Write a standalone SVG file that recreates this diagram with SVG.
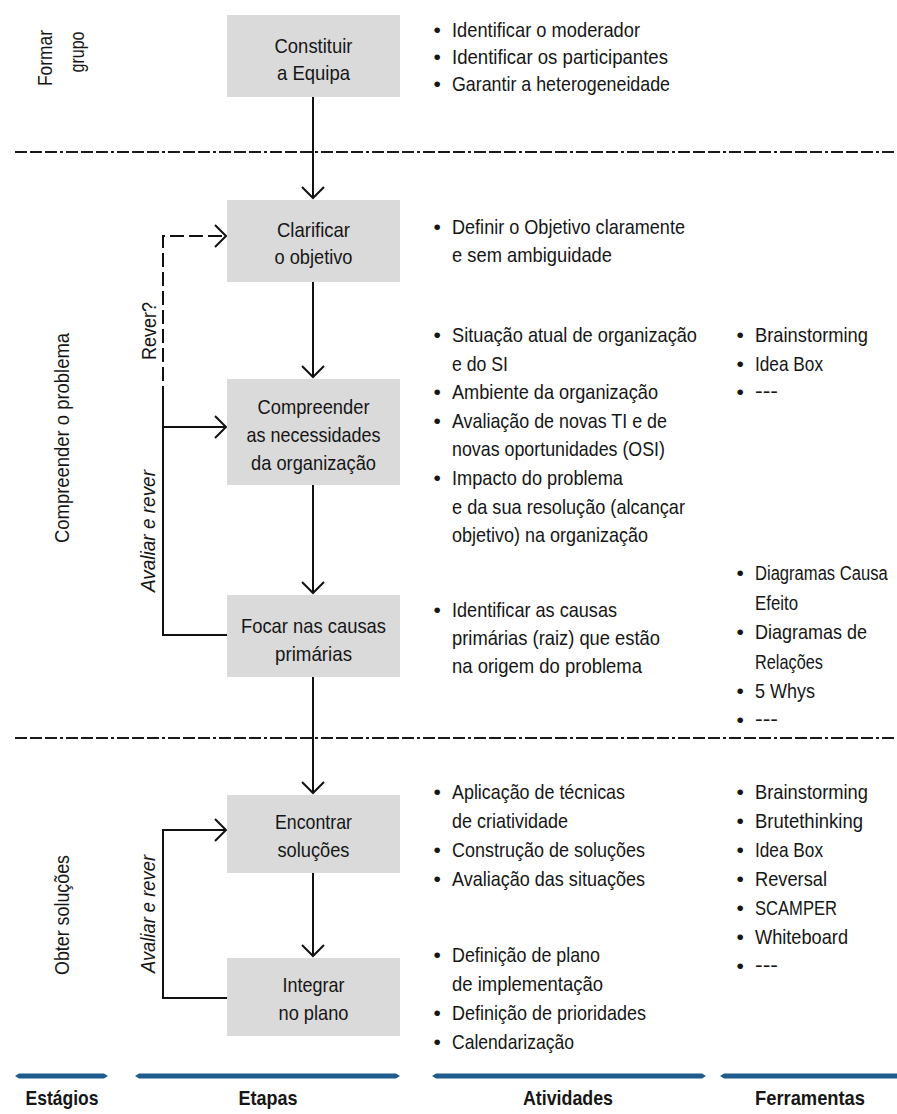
<svg xmlns="http://www.w3.org/2000/svg" width="897" height="1114" viewBox="0 0 897 1114">
<style>
text{font-family:"Liberation Sans",Arial,sans-serif;font-size:21px;fill:#161616}
.c{text-anchor:middle}
.b{font-weight:bold}
.i{font-style:italic}
.box{fill:#dadada}
.ln{fill:none;stroke:#111;stroke-width:2}
.dash{fill:none;stroke:#111;stroke-width:2;stroke-dasharray:14 5}
.sep{fill:none;stroke:#1a1a1a;stroke-width:2.2;stroke-dasharray:12 3 12 3 12 3 3 3}
.bar{fill:#1d5c8c}
</style>
<defs>
<marker id="arr" viewBox="-13 -13 15 26" markerWidth="15" markerHeight="26" refX="0" refY="0" orient="auto" markerUnits="userSpaceOnUse">
<path d="M-11,-11 L0,0 L-11,11" fill="none" stroke="#111" stroke-width="2"/>
</marker>
</defs>
<rect width="897" height="1114" fill="#fff"/>

<g id="separators">
<path class="sep" d="M15,152 H897"/>
<path class="sep" d="M15,738 H897"/>
</g>

<g id="stages">
<text transform="translate(52,58) rotate(-90)" class="c" textLength="56" lengthAdjust="spacingAndGlyphs">Formar</text>
<text transform="translate(84,52) rotate(-90)" class="c" textLength="41" lengthAdjust="spacingAndGlyphs">grupo</text>
<text transform="translate(69,438) rotate(-90)" class="c" textLength="210" lengthAdjust="spacingAndGlyphs">Compreender o problema</text>
<text transform="translate(69,915) rotate(-90)" class="c" textLength="120" lengthAdjust="spacingAndGlyphs">Obter soluções</text>
</g>

<g id="connectors">
<path class="ln" d="M313,97 V198" marker-end="url(#arr)"/>
<path class="ln" d="M313,282 V377" marker-end="url(#arr)"/>
<path class="ln" d="M313,485 V593" marker-end="url(#arr)"/>
<path class="ln" d="M313,677 V793" marker-end="url(#arr)"/>
<path class="ln" d="M313,873 V956" marker-end="url(#arr)"/>
<path class="dash" d="M163,400 V236 H226" marker-end="url(#arr)"/>
<path class="ln" d="M163,400 V635 H228"/>
<path class="ln" d="M163,427 H226" marker-end="url(#arr)"/>
<path class="ln" d="M228,998 H163 V830 H226" marker-end="url(#arr)"/>
<text transform="translate(156,331) rotate(-90)" class="c" textLength="58" lengthAdjust="spacingAndGlyphs">Rever?</text>
<text transform="translate(155,531) rotate(-90)" class="c i" textLength="122" lengthAdjust="spacingAndGlyphs">Avaliar e rever</text>
<text transform="translate(155,914) rotate(-90)" class="c i" textLength="118" lengthAdjust="spacingAndGlyphs">Avaliar e rever</text>
</g>

<g id="n1">
<rect class="box" x="227" y="15" width="173" height="82"/>
<text x="313.5" y="53" class="c" textLength="78" lengthAdjust="spacingAndGlyphs">Constituir</text>
<text x="313.5" y="80" class="c" textLength="73" lengthAdjust="spacingAndGlyphs">a Equipa</text>
</g>
<g id="n2">
<rect class="box" x="227" y="200" width="173" height="82"/>
<text x="313.5" y="237" class="c" textLength="73" lengthAdjust="spacingAndGlyphs">Clarificar</text>
<text x="313.5" y="264" class="c" textLength="78" lengthAdjust="spacingAndGlyphs">o objetivo</text>
</g>
<g id="n3">
<rect class="box" x="227" y="379" width="173" height="106"/>
<text x="313.5" y="414" class="c" textLength="112" lengthAdjust="spacingAndGlyphs">Compreender</text>
<text x="313.5" y="442" class="c" textLength="134" lengthAdjust="spacingAndGlyphs">as necessidades</text>
<text x="313.5" y="470" class="c" textLength="125" lengthAdjust="spacingAndGlyphs">da organização</text>
</g>
<g id="n4">
<rect class="box" x="227" y="595" width="173" height="82"/>
<text x="313.5" y="633" class="c" textLength="145" lengthAdjust="spacingAndGlyphs">Focar nas causas</text>
<text x="313.5" y="661" class="c" textLength="77" lengthAdjust="spacingAndGlyphs">primárias</text>
</g>
<g id="n5">
<rect class="box" x="227" y="795" width="173" height="78"/>
<text x="313.5" y="829" class="c" textLength="77" lengthAdjust="spacingAndGlyphs">Encontrar</text>
<text x="313.5" y="857" class="c" textLength="72" lengthAdjust="spacingAndGlyphs">soluções</text>
</g>
<g id="n6">
<rect class="box" x="227" y="958" width="173" height="78"/>
<text x="313.5" y="992" class="c" textLength="62" lengthAdjust="spacingAndGlyphs">Integrar</text>
<text x="313.5" y="1020" class="c" textLength="70" lengthAdjust="spacingAndGlyphs">no plano</text>
</g>

<g id="activities">
<text x="433.5" y="37">•</text><text x="452" y="37" textLength="188" lengthAdjust="spacingAndGlyphs">Identificar o moderador</text>
<text x="433.5" y="64">•</text><text x="452" y="64" textLength="216" lengthAdjust="spacingAndGlyphs">Identificar os participantes</text>
<text x="433.5" y="91">•</text><text x="452" y="91" textLength="218" lengthAdjust="spacingAndGlyphs">Garantir a heterogeneidade</text>

<text x="433.5" y="234">•</text><text x="452" y="234" textLength="233" lengthAdjust="spacingAndGlyphs">Definir o Objetivo claramente</text>
<text x="452" y="262" textLength="160" lengthAdjust="spacingAndGlyphs">e sem ambiguidade</text>

<text x="433.5" y="342">•</text><text x="452" y="342" textLength="245" lengthAdjust="spacingAndGlyphs">Situação atual de organização</text>
<text x="452" y="371" textLength="56" lengthAdjust="spacingAndGlyphs">e do SI</text>
<text x="433.5" y="399">•</text><text x="452" y="399" textLength="206" lengthAdjust="spacingAndGlyphs">Ambiente da organização</text>
<text x="433.5" y="428">•</text><text x="452" y="428" textLength="215" lengthAdjust="spacingAndGlyphs">Avaliação de novas TI e de</text>
<text x="452" y="456" textLength="213" lengthAdjust="spacingAndGlyphs">novas oportunidades (OSI)</text>
<text x="433.5" y="485">•</text><text x="452" y="485" textLength="171" lengthAdjust="spacingAndGlyphs">Impacto do problema</text>
<text x="452" y="514" textLength="233" lengthAdjust="spacingAndGlyphs">e da sua resolução (alcançar</text>
<text x="452" y="542" textLength="196" lengthAdjust="spacingAndGlyphs">objetivo) na organização</text>

<text x="433.5" y="617">•</text><text x="452" y="617" textLength="165" lengthAdjust="spacingAndGlyphs">Identificar as causas</text>
<text x="452" y="645" textLength="208" lengthAdjust="spacingAndGlyphs">primárias (raiz) que estão</text>
<text x="452" y="673" textLength="190" lengthAdjust="spacingAndGlyphs">na origem do problema</text>

<text x="433.5" y="799">•</text><text x="452" y="799" textLength="173" lengthAdjust="spacingAndGlyphs">Aplicação de técnicas</text>
<text x="452" y="828" textLength="116" lengthAdjust="spacingAndGlyphs">de criatividade</text>
<text x="433.5" y="857">•</text><text x="452" y="857" textLength="193" lengthAdjust="spacingAndGlyphs">Construção de soluções</text>
<text x="433.5" y="886">•</text><text x="452" y="886" textLength="193" lengthAdjust="spacingAndGlyphs">Avaliação das situações</text>

<text x="433.5" y="962">•</text><text x="452" y="962" textLength="148" lengthAdjust="spacingAndGlyphs">Definição de plano</text>
<text x="452" y="991" textLength="151" lengthAdjust="spacingAndGlyphs">de implementação</text>
<text x="433.5" y="1020">•</text><text x="452" y="1020" textLength="194" lengthAdjust="spacingAndGlyphs">Definição de prioridades</text>
<text x="433.5" y="1049">•</text><text x="452" y="1049" textLength="122" lengthAdjust="spacingAndGlyphs">Calendarização</text>
</g>

<g id="tools">
<text x="736.5" y="342">•</text><text x="755" y="342" textLength="113" lengthAdjust="spacingAndGlyphs">Brainstorming</text>
<text x="736.5" y="371">•</text><text x="755" y="371" textLength="68" lengthAdjust="spacingAndGlyphs">Idea Box</text>
<text x="736.5" y="399">•</text><text x="755" y="398" textLength="23" lengthAdjust="spacingAndGlyphs">---</text>

<text x="736.5" y="580">•</text><text transform="translate(755,580) scale(0.79,1)">Diagramas Causa</text>
<text x="755" y="610" textLength="43" lengthAdjust="spacingAndGlyphs">Efeito</text>
<text x="736.5" y="639">•</text><text x="755" y="639" textLength="112" lengthAdjust="spacingAndGlyphs">Diagramas de</text>
<text x="755" y="669" textLength="68" lengthAdjust="spacingAndGlyphs">Relações</text>
<text x="736.5" y="698">•</text><text x="755" y="698" textLength="60" lengthAdjust="spacingAndGlyphs">5 Whys</text>
<text x="736.5" y="727">•</text><text x="755" y="726" textLength="23" lengthAdjust="spacingAndGlyphs">---</text>

<text x="736.5" y="799">•</text><text x="755" y="799" textLength="113" lengthAdjust="spacingAndGlyphs">Brainstorming</text>
<text x="736.5" y="828">•</text><text x="755" y="828" textLength="108" lengthAdjust="spacingAndGlyphs">Brutethinking</text>
<text x="736.5" y="857">•</text><text x="755" y="857" textLength="68" lengthAdjust="spacingAndGlyphs">Idea Box</text>
<text x="736.5" y="886">•</text><text x="755" y="886" textLength="72" lengthAdjust="spacingAndGlyphs">Reversal</text>
<text x="736.5" y="915">•</text><text x="755" y="915" textLength="82" lengthAdjust="spacingAndGlyphs">SCAMPER</text>
<text x="736.5" y="944">•</text><text x="755" y="944" textLength="93" lengthAdjust="spacingAndGlyphs">Whiteboard</text>
<text x="736.5" y="973">•</text><text x="755" y="972" textLength="23" lengthAdjust="spacingAndGlyphs">---</text>
</g>

<g id="legend">
<polygon class="bar" points="15,1076 19,1073.5 104,1073.5 108,1076 104,1078.5 19,1078.5"/>
<polygon class="bar" points="135,1076 139,1073.5 396,1073.5 400,1076 396,1078.5 139,1078.5"/>
<polygon class="bar" points="432,1076 436,1073.5 702,1073.5 706,1076 702,1078.5 436,1078.5"/>
<polygon class="bar" points="720,1076 724,1073.5 897,1073.5 897,1078.5 724,1078.5"/>
<text x="62" y="1105" class="c b" textLength="73" lengthAdjust="spacingAndGlyphs">Estágios</text>
<text x="268" y="1105" class="c b" textLength="59" lengthAdjust="spacingAndGlyphs">Etapas</text>
<text x="568" y="1105" class="c b" textLength="90" lengthAdjust="spacingAndGlyphs">Atividades</text>
<text x="810" y="1105" class="c b" textLength="110" lengthAdjust="spacingAndGlyphs">Ferramentas</text>
</g>
</svg>
